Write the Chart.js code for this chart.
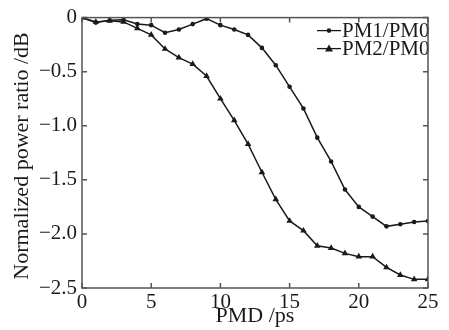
<!DOCTYPE html>
<html>
<head>
<meta charset="utf-8">
<script src="https://cdn.jsdelivr.net/npm/chart.js@4.4.1/dist/chart.umd.min.js"></script>
<style>
  body { margin: 0; background: #fff; }
  canvas { display: block; }
</style>
</head>
<body>
<canvas id="chart" width="449" height="330"></canvas>
<script>
const pmd = [0, 1, 2, 3, 4, 5, 6, 7, 8, 9, 10, 11, 12, 13, 14, 15, 16, 17, 18, 19, 20, 21, 22, 23, 24, 25];
const pm1 = [0, -0.046, -0.025, -0.02, -0.06, -0.07, -0.14, -0.11, -0.06, -0.01, -0.07, -0.11, -0.16,
  -0.28, -0.44, -0.64, -0.84, -1.11, -1.33, -1.59, -1.75, -1.84, -1.93, -1.91, -1.89, -1.88];
const pm2 = [0, -0.04, -0.03, -0.04, -0.10, -0.16, -0.29, -0.37, -0.43, -0.54, -0.75, -0.95, -1.17,
  -1.43, -1.68, -1.88, -1.97, -2.11, -2.13, -2.18, -2.21, -2.21, -2.31, -2.38, -2.42, -2.42];
const seriesNames = ["PM1/PM0", "PM2/PM0"];
const xTicks = [0, 5, 10, 15, 20, 25];
const yTicks = [0, -0.5, -1.0, -1.5, -2.0, -2.5];
const xTitle = "PMD /ps";
const yTitle = "Normalized power ratio /dB";

const FONT = "'Liberation Serif', 'Times New Roman', serif";
const INK = "#1a1a1a";
const FRAME = "#555";

const toPoints = (ys) => pmd.map((x, i) => ({ x: x, y: ys[i] }));

// frame with inward ticks on all four sides, plus the two axis titles
const framePlugin = {
  id: "frame",
  afterDraw(chart) {
    const { ctx, chartArea: a, scales } = chart;
    ctx.save();
    ctx.strokeStyle = FRAME;
    ctx.lineWidth = 1.5;
    ctx.strokeRect(a.left, a.top, a.right - a.left, a.bottom - a.top);
    ctx.beginPath();
    for (const v of xTicks) {
      const px = scales.x.getPixelForValue(v);
      ctx.moveTo(px, a.bottom); ctx.lineTo(px, a.bottom - 5);
      ctx.moveTo(px, a.top); ctx.lineTo(px, a.top + 5);
    }
    for (const v of yTicks) {
      const py = scales.y.getPixelForValue(v);
      ctx.moveTo(a.left, py); ctx.lineTo(a.left + 5, py);
      ctx.moveTo(a.right, py); ctx.lineTo(a.right - 5, py);
    }
    ctx.stroke();

    ctx.fillStyle = INK;
    ctx.font = "22px " + FONT;
    ctx.textAlign = "center";
    ctx.textBaseline = "alphabetic";
    ctx.fillText(xTitle, (a.left + a.right) / 2, 322);
    ctx.translate(28, 156);
    ctx.rotate(-Math.PI / 2);
    ctx.fillText(yTitle, 0, 0);
    ctx.restore();
  }
};

// legend drawn inside the plot, top right: line + marker + label
const legendPlugin = {
  id: "innerLegend",
  afterDatasetsDraw(chart) {
    const { ctx, chartArea: a } = chart;
    ctx.save();
    ctx.font = "21px " + FONT;
    ctx.textBaseline = "middle";
    ctx.textAlign = "left";
    chart.data.datasets.forEach((ds, i) => {
      const y = a.top + 13 + i * 18;
      const x0 = a.right - 111;
      ctx.strokeStyle = INK;
      ctx.fillStyle = INK;
      ctx.lineWidth = 1.3;
      ctx.beginPath();
      ctx.moveTo(x0, y); ctx.lineTo(x0 + 24, y);
      ctx.stroke();
      const cx = x0 + 12;
      ctx.beginPath();
      if (ds.pointStyle === "triangle") {
        ctx.moveTo(cx, y - 4); ctx.lineTo(cx + 4, y + 3); ctx.lineTo(cx - 4, y + 3);
        ctx.closePath();
      } else {
        ctx.arc(cx, y, 2.3, 0, Math.PI * 2);
      }
      ctx.fill();
      ctx.fillText(ds.label, x0 + 25, y + 1);
    });
    ctx.restore();
  }
};

new Chart(document.getElementById("chart"), {
  type: "line",
  data: {
    datasets: [
      {
        label: seriesNames[0],
        data: toPoints(pm1),
        borderColor: INK,
        backgroundColor: INK,
        borderWidth: 1.5,
        pointStyle: "circle",
        pointRadius: 2.3,
        pointBorderWidth: 0,
        tension: 0
      },
      {
        label: seriesNames[1],
        data: toPoints(pm2),
        borderColor: INK,
        backgroundColor: INK,
        borderWidth: 1.5,
        pointStyle: "triangle",
        pointRadius: 3.8,
        pointBorderWidth: 0,
        tension: 0
      }
    ]
  },
  options: {
    responsive: false,
    animation: false,
    layout: { padding: { left: 0, right: 21, top: 14, bottom: 0 } },
    plugins: {
      legend: { display: false },
      tooltip: { enabled: false }
    },
    scales: {
      x: {
        type: "linear",
        min: 0,
        max: 25,
        afterBuildTicks: (s) => { s.ticks = xTicks.map((v) => ({ value: v })); },
        afterFit: (s) => { s.height = 42; },
        grid: { display: false, drawTicks: false },
        border: { display: false },
        ticks: {
          color: INK,
          padding: 2,
          font: { family: FONT, size: 21 },
          maxRotation: 0,
          callback: (v) => String(v)
        },
        title: { display: false }
      },
      y: {
        min: -2.5,
        max: 0,
        afterBuildTicks: (s) => { s.ticks = yTicks.map((v) => ({ value: v })); },
        afterFit: (s) => { s.width = 82; },
        grid: { display: false, drawTicks: false },
        border: { display: false },
        ticks: {
          color: INK,
          padding: 5,
          font: { family: FONT, size: 21 },
          callback: (v) => v === 0 ? "0" : "\u2212" + Math.abs(v).toFixed(1)
        },
        title: { display: false }
      }
    }
  },
  plugins: [framePlugin, legendPlugin]
});
</script>
</body>
</html>
